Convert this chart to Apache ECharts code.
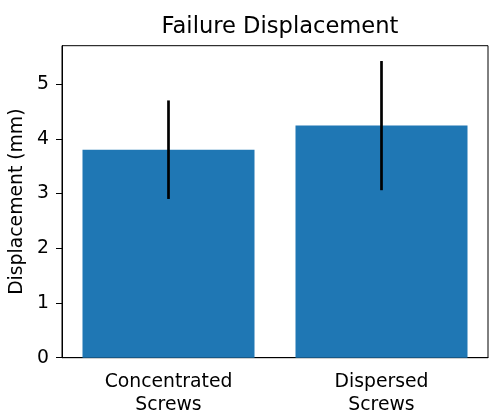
<!DOCTYPE html>
<html>
<head>
<meta charset="utf-8">
<script src="https://cdn.jsdelivr.net/npm/echarts@6/dist/echarts.min.js"></script>
<style>html,body{margin:0;padding:0;background:#fff;}#c{width:494px;height:413px;}</style>
</head>
<body>
<div id="c"></div>
<script>
var categories = ['Concentrated\nScrews', 'Dispersed\nScrews'];
var means = [3.80, 4.24];
var errors = [0.90, 1.18];
var yTicks = [0, 1, 2, 3, 4, 5];

var FONT = 'DejaVu Sans';
var chart = echarts.init(document.getElementById('c'), null, {renderer: 'canvas'});
var errData = means.map(function (m, i) { return [i, m, errors[i]]; });

chart.setOption({
  animation: false,
  backgroundColor: '#ffffff',
  title: {
    text: 'Failure Displacement',
    left: 275, top: 11, textAlign: 'center',
    textStyle: {fontFamily: FONT, fontSize: 22.6, fontWeight: 'normal', color: '#000'}
  },
  grid: {left: 62, right: 6, top: 45.7, bottom: 55.3, outerBoundsMode: 'none', containLabel: false,
    show: true, borderColor: '#000', borderWidth: 1, backgroundColor: 'transparent'},
  xAxis: {
    type: 'category', data: categories,
    axisLine: {lineStyle: {color: '#000', width: 1}},
    axisTick: {alignWithLabel: true, length: 6, lineStyle: {color: '#000', width: 1}},
    axisLabel: {fontFamily: FONT, fontSize: 18.8, color: '#000', margin: 13, lineHeight: 22.7, interval: 0},
    splitLine: {show: false}
  },
  yAxis: {
    type: 'value', min: 0, max: 5.7, interval: 1,
    name: 'Displacement (mm)', nameLocation: 'middle', nameGap: 28,
    nameTextStyle: {fontFamily: FONT, fontSize: 18.8, color: '#000'},
    axisLine: {show: true, lineStyle: {color: '#000', width: 1}},
    axisTick: {show: true, length: 6, customValues: yTicks, lineStyle: {color: '#000', width: 1}},
    axisLabel: {fontFamily: FONT, fontSize: 18.8, color: '#000', margin: 13, customValues: yTicks},
    splitLine: {show: false}
  },
  series: [
    {type: 'bar', data: means, barWidth: 172, itemStyle: {color: '#1f77b4'}},
    {
      type: 'custom', data: errData, z: 5,
      renderItem: function (params, api) {
        var x = api.value(0), m = api.value(1), e = api.value(2);
        var top = api.coord([x, m + e]);
        var bot = api.coord([x, m - e]);
        return {type: 'line', shape: {x1: top[0], y1: top[1], x2: bot[0], y2: bot[1]},
          style: {stroke: '#000', lineWidth: 2.7}};
      }
    }
  ]
});
</script>
</body>
</html>
